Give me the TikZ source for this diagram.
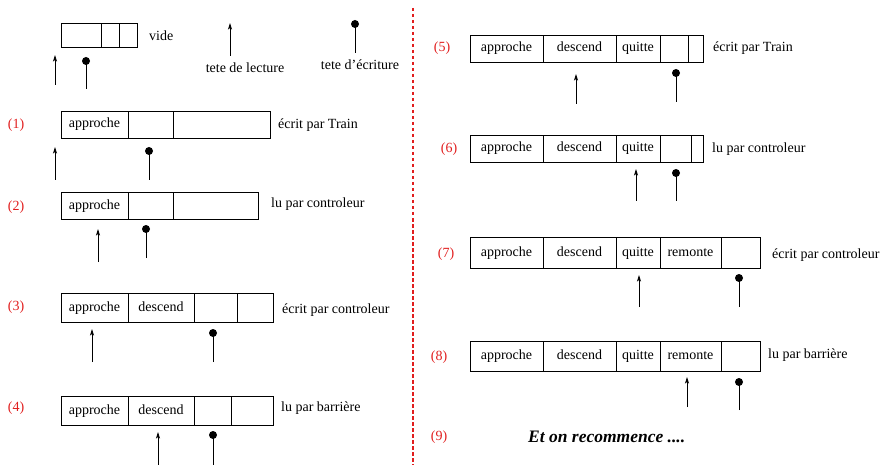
\documentclass[tikz,border=0pt]{standalone}
\usepackage{fontspec}
\setmainfont{Liberation Serif}
\usetikzlibrary{arrows.meta}
\definecolor{lblred}{RGB}{225,30,30}
\tikzset{
  cell/.style={draw, line width=0.8pt, inner sep=0pt, text height=9.5pt, text depth=2.5pt, font=\fontsize{14}{16}\selectfont},
  txt/.style={inner sep=0pt, text height=9.5pt, text depth=2.5pt, font=\fontsize{14}{16}\selectfont},
  lbl/.style={txt, text=lblred},
  readptr/.style={line width=0.8pt, -{Stealth[length=6.5pt,width=4pt,inset=1.5pt]}},
  writeptr/.style={line width=0.8pt},
  pin/.style={circle, fill=black, inner sep=0pt, minimum size=8pt},
  sep/.style={draw=lblred, line width=1.1pt, dash pattern=on 3.5pt off 2.5pt}
}
\newcommand\tcell[6]{\node[cell, minimum width={(#3)*1pt-(#2)*1pt}, minimum height={(#5)*1pt-(#4)*1pt}] (#1) at ({((#2)+(#3))/2},{((#4)+(#5))/2}) {#6};}
\newcommand\readp[4]{\coordinate (#1b) at (#2,#3); \coordinate (#1t) at (#2,#4); \draw[readptr] (#1b) -- (#1t);}
\newcommand\writep[4]{\coordinate (#1b) at (#2,#3); \node[pin] (#1t) at (#2,#4) {}; \draw[writeptr] (#1b) -- (#1t.center);}
\begin{document}
\begin{tikzpicture}[x=1pt,y=-1pt]
\useasboundingbox (0,0) rectangle (883,465);
% separator
\coordinate (sept) at (413,8); \coordinate (sepb) at (413,465);
\draw[sep] (sept) -- (sepb);
% vide
\tcell{v1}{61}{101}{23}{47}{}
\tcell{v2}{101}{119}{23}{47}{}
\tcell{v3}{119}{137}{23}{47}{}
\node[txt, anchor=west] (tv) at (149,37) {vide};
\readp{rv}{55}{85}{55}
\writep{wv}{86}{89}{61}
% legend
\readp{rl}{230}{56}{23}
\node[txt] (tl) at (245,69) {tete de lecture};
\writep{wl}{355}{53}{24}
\node[txt] (tw) at (360,66) {tete d’\'ecriture};
% (1)
\node[lbl] (l1) at (16,125) {(1)};
\tcell{a1}{61}{128}{111}{138}{approche}
\tcell{b1}{128}{173}{111}{138}{}
\tcell{c1}{173}{270}{111}{138}{}
\node[txt, anchor=west] (t1) at (278,125) {\'ecrit par Train};
\readp{r1}{55}{180}{147}
\writep{w1}{149}{180}{151}
% (2)
\node[lbl] (l2) at (16,207) {(2)};
\tcell{a2}{61}{128}{192}{219}{approche}
\tcell{b2}{128}{173}{192}{219}{}
\tcell{c2}{173}{258}{192}{219}{}
\node[txt, anchor=west] (t2) at (271,204) {lu par controleur};
\readp{r2}{98}{262}{229}
\writep{w2}{146}{258}{229}
% (3)
\node[lbl] (l3) at (16,307) {(3)};
\tcell{a3}{61}{128}{293}{322}{approche}
\tcell{b3}{128}{194}{293}{322}{descend}
\tcell{c3}{194}{237}{293}{322}{}
\tcell{d3}{237}{273}{293}{322}{}
\node[txt, anchor=west] (t3) at (282,310) {\'ecrit par controleur};
\readp{r3}{92}{362}{329}
\writep{w3}{213}{362}{333}
% (4)
\node[lbl] (l4) at (16,408) {(4)};
\tcell{a4}{61}{128}{396}{425}{approche}
\tcell{b4}{128}{194}{396}{425}{descend}
\tcell{c4}{194}{231}{396}{425}{}
\tcell{d4}{231}{273}{396}{425}{}
\node[txt, anchor=west] (t4) at (281,408) {lu par barri\`ere};
\readp{r4}{158}{465}{432}
\writep{w4}{213}{465}{435}
% (5)
\node[lbl] (l5) at (442,48) {(5)};
\tcell{a5}{470}{543}{35}{62}{approche}
\tcell{b5}{543}{616}{35}{62}{descend}
\tcell{c5}{616}{660}{35}{62}{quitte}
\tcell{d5}{660}{688}{35}{62}{}
\tcell{e5}{688}{703}{35}{62}{}
\node[txt, anchor=west] (t5) at (713,48) {\'ecrit par Train};
\readp{r5}{576}{104}{74}
\writep{w5}{676}{102}{73}
% (6)
\node[lbl] (l6) at (449,149) {(6)};
\tcell{a6}{470}{543}{135}{162}{approche}
\tcell{b6}{543}{616}{135}{162}{descend}
\tcell{c6}{616}{660}{135}{162}{quitte}
\tcell{d6}{660}{691}{135}{162}{}
\tcell{e6}{691}{703}{135}{162}{}
\node[txt, anchor=west] (t6) at (712,149) {lu par controleur};
\readp{r6}{636}{201}{169}
\writep{w6}{676}{201}{173}
% (7)
\node[lbl] (l7) at (446,254) {(7)};
\tcell{a7}{470}{543}{237}{268}{approche}
\tcell{b7}{543}{616}{237}{268}{descend}
\tcell{c7}{616}{660}{237}{268}{quitte}
\tcell{d7}{660}{721}{237}{268}{remonte}
\tcell{e7}{721}{760}{237}{268}{}
\node[txt, anchor=west] (t7) at (772,255) {\'ecrit par controleur};
\readp{r7}{639}{307}{275}
\writep{w7}{739}{307}{278}
% (8)
\node[lbl] (l8) at (439,357) {(8)};
\tcell{a8}{470}{543}{341}{371}{approche}
\tcell{b8}{543}{616}{341}{371}{descend}
\tcell{c8}{616}{660}{341}{371}{quitte}
\tcell{d8}{660}{721}{341}{371}{remonte}
\tcell{e8}{721}{760}{341}{371}{}
\node[txt, anchor=west] (t8) at (768,355) {lu par barri\`ere};
\readp{r8}{687}{407}{377}
\writep{w8}{739}{410}{382}
% (9)
\node[lbl] (l9) at (439,437) {(9)};
\node[txt, anchor=west, font=\fontsize{17.5}{20}\selectfont\bfseries\itshape] (t9) at (528,439) {Et on recommence ....};
\end{tikzpicture}
\end{document}
